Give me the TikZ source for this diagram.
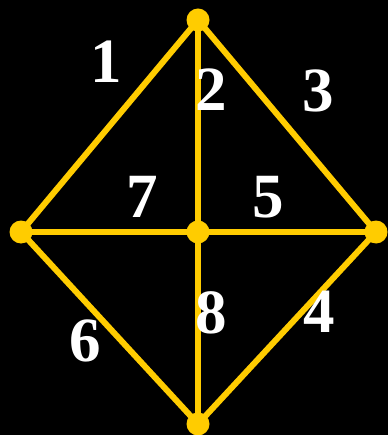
\documentclass[tikz,border=0pt]{standalone}
\usepackage{fontspec}
\setmainfont{Liberation Serif}
\definecolor{gold}{HTML}{FFCC00}
\begin{document}
\begin{tikzpicture}[x=1pt,y=-1pt,
  edge/.style={draw=gold,line width=6pt},
  vtx/.style={circle,fill=gold,minimum size=23pt,inner sep=0pt},
  lbl/.style={text=white,font=\fontsize{63}{63}\selectfont\bfseries,inner sep=0pt}]
\fill[black] (0,0) rectangle (388,435);
\useasboundingbox (0,0) rectangle (388,435);
\coordinate (T) at (198,20);
\coordinate (L) at (21,232);
\coordinate (C) at (198,232);
\coordinate (R) at (376,232);
\coordinate (B) at (198,424);
\draw[edge] (T) -- (L);
\draw[edge] (T) -- (R);
\draw[edge] (T) -- (B);
\draw[edge] (L) -- (R);
\draw[edge] (L) -- (B);
\draw[edge] (R) -- (B);
\node[vtx] (t) at (T) {};
\node[vtx] (l) at (L) {};
\node[vtx] (c) at (C) {};
\node[vtx] (r) at (R) {};
\node[vtx] (b) at (B) {};
\node[lbl] (n1) at (106,62) {1};
\node[lbl] (n2) at (211,90) {2};
\node[lbl] (n3) at (318,91) {3};
\node[lbl] (n7) at (142,197) {7};
\node[lbl] (n5) at (268,197) {5};
\node[lbl] (n6) at (85,341) {6};
\node[lbl] (n8) at (211,313) {8};
\node[lbl] (n4) at (319,312) {4};
\end{tikzpicture}
\end{document}
